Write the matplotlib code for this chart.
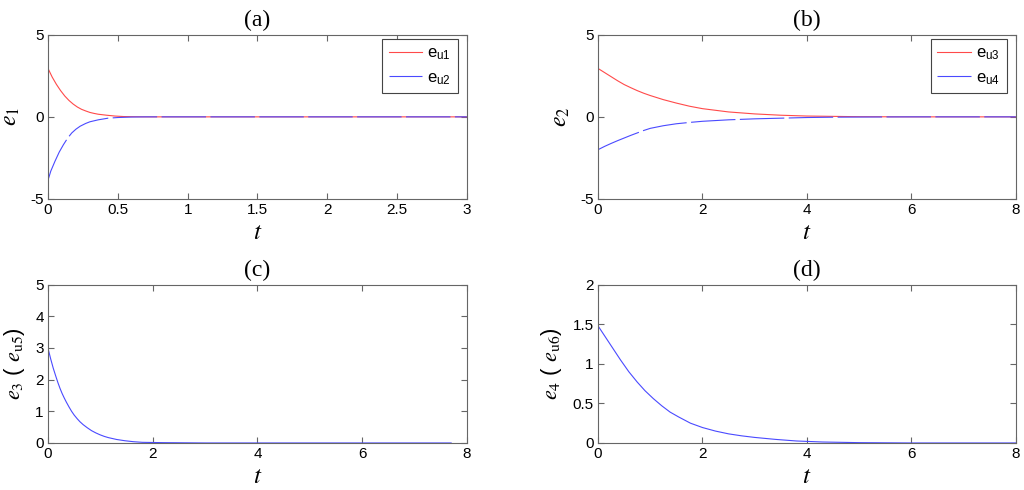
import matplotlib
matplotlib.use('Agg')
import matplotlib.pyplot as plt

plt.rcParams['font.family'] = ['Liberation Sans', 'DejaVu Sans']
plt.rcParams['mathtext.fontset'] = 'stix'
plt.rcParams['axes.unicode_minus'] = False

# (a) values
ta_1 = [0, 0.03, 0.06, 0.09, 0.12, 0.15, 0.18, 0.21, 0.24, 0.27, 0.30, 0.33, 0.36, 0.42,
        0.48, 0.54, 0.60, 0.7, 1.0, 2.0, 3.0]
eu1 = [2.95, 2.42, 1.98, 1.6, 1.27, 1.0, 0.78, 0.6, 0.46, 0.36, 0.27, 0.21, 0.16, 0.10,
       0.05, 0.02, 0.01, 0, 0, 0, 0]
ta_2 = [0, 0.02, 0.05, 0.08, 0.11, 0.14, 0.17, 0.20, 0.23, 0.27, 0.30, 0.36, 0.43, 0.50,
        0.60, 0.7, 1.0, 2.0, 3.0]
eu2 = [-3.85, -3.3, -2.7, -2.15, -1.7, -1.3, -0.98, -0.75, -0.57, -0.4, -0.3, -0.18,
       -0.08, -0.04, -0.01, 0, 0, 0, 0]

# (b)
tb = [0, 0.125, 0.25, 0.375, 0.5, 0.625, 0.75, 0.875, 1.0, 1.25, 1.5, 1.75, 2.0, 2.5,
      3.0, 3.5, 4.0, 4.5, 5.0, 6.0, 7.0, 8.0]
eu3 = [2.95, 2.7, 2.45, 2.2, 1.97, 1.78, 1.6, 1.44, 1.3, 1.05, 0.84, 0.65, 0.5, 0.3,
       0.18, 0.1, 0.05, 0.03, 0.01, 0, 0, 0]
eu4 = [-2.0, -1.8, -1.62, -1.45, -1.29, -1.13, -0.98, -0.83, -0.70, -0.54, -0.42, -0.34,
       -0.27, -0.18, -0.12, -0.08, -0.04, -0.02, -0.01, 0, 0, 0]

# (c)
tc = [0, 0.05, 0.1, 0.15, 0.19, 0.23, 0.27, 0.31, 0.35, 0.4, 0.45, 0.5, 0.56, 0.61, 0.67,
      0.75, 0.83, 0.91, 0.99, 1.07, 1.15, 1.23, 1.31, 1.47, 1.63, 1.8, 2.2, 3.0, 5.0, 7.7]
eu5 = [2.99, 2.66, 2.36, 2.1, 1.9, 1.72, 1.56, 1.42, 1.29, 1.14, 1.0, 0.88, 0.76, 0.67,
       0.58, 0.48, 0.39, 0.32, 0.26, 0.21, 0.17, 0.14, 0.11, 0.07, 0.04, 0.02, 0.01, 0, 0, 0]

# (d)
td = [0, 0.13, 0.27, 0.43, 0.59, 0.75, 0.9, 1.06, 1.22, 1.38, 1.54, 1.77, 2.0, 2.25, 2.5,
      2.75, 3.0, 3.4, 3.8, 4.3, 5.0, 6.0, 8.0]
eu6 = [1.48, 1.35, 1.21, 1.05, 0.9, 0.77, 0.66, 0.56, 0.47, 0.39, 0.33, 0.25, 0.195, 0.15,
       0.115, 0.09, 0.07, 0.045, 0.025, 0.012, 0.004, 0, 0]

red = '#ff4a4a'
blue = '#4a4aff'
edge = '#666666'

fig = plt.figure(figsize=(10.24, 4.9), dpi=100)
ax1 = fig.add_axes([0.0469, 0.594, 0.409, 0.335])
ax2 = fig.add_axes([0.584, 0.594, 0.408, 0.335])
ax3 = fig.add_axes([0.0469, 0.096, 0.409, 0.323])
ax4 = fig.add_axes([0.584, 0.096, 0.408, 0.323])

ax1.plot(ta_1, eu1, color=red, lw=0.8, label=r'e$_{\mathregular{u1}}$')
ax1.plot(ta_2, eu2, color=blue, lw=0.8, dashes=(40, 4), label=r'e$_{\mathregular{u2}}$')
ax1.set_xlim(0, 3)
ax1.set_ylim(-5, 5)
ax1.set_xticks([0, 0.5, 1, 1.5, 2, 2.5, 3])
ax1.set_xticklabels(['0', '0.5', '1', '1.5', '2', '2.5', '3'])
ax1.set_yticks([-5, 0, 5])
ax1.set_ylabel(r'$e_1$', fontsize=17, labelpad=6)
ax1.set_title('(a)', family='Liberation Serif', fontsize=17, pad=6)

ax2.plot(tb, eu3, color=red, lw=0.8, label=r'e$_{\mathregular{u3}}$')
ax2.plot(tb, eu4, color=blue, lw=0.8, dashes=(40, 4), label=r'e$_{\mathregular{u4}}$')
ax2.set_xlim(0, 8)
ax2.set_ylim(-5, 5)
ax2.set_xticks([0, 2, 4, 6, 8])
ax2.set_yticks([-5, 0, 5])
ax2.set_ylabel(r'$e_2$', fontsize=17, labelpad=6)
ax2.set_title('(b)', family='Liberation Serif', fontsize=17, pad=6)

ax3.plot(tc, eu5, color=blue, lw=0.8)
ax3.set_xlim(0, 8)
ax3.set_ylim(0, 5)
ax3.set_xticks([0, 2, 4, 6, 8])
ax3.set_yticks([0, 1, 2, 3, 4, 5])
ax3.set_ylabel(r'$e_3$ ( $e_{\mathrm{u5}}$)', fontsize=16, labelpad=6)
ax3.set_title('(c)', family='Liberation Serif', fontsize=17, pad=6)

ax4.plot(td, eu6, color=blue, lw=0.8)
ax4.set_xlim(0, 8)
ax4.set_ylim(0, 2)
ax4.set_xticks([0, 2, 4, 6, 8])
ax4.set_yticks([0, 0.5, 1, 1.5, 2])
ax4.set_yticklabels(['0', '0.5', '1', '1.5', '2'])
ax4.set_ylabel(r'$e_4$ ( $e_{\mathrm{u6}}$)', fontsize=16, labelpad=6)
ax4.set_title('(d)', family='Liberation Serif', fontsize=17, pad=6)

for ax in [ax1, ax2, ax3, ax4]:
    ax.set_xlabel(r'$t$', fontsize=18, labelpad=2)
    ax.tick_params(direction='in', top=True, right=True, labelsize=11, length=4,
                   color=edge, pad=3)
    for s in ax.spines.values():
        s.set_color(edge)
        s.set_linewidth(0.8)

for ax in [ax1, ax2]:
    leg = ax.legend(loc='upper right', bbox_to_anchor=(0.978, 0.976), borderaxespad=0,
                    fontsize=12, fancybox=False, framealpha=1, edgecolor='#444444',
                    handlelength=2.0, handletextpad=0.3, labelspacing=0.5,
                    borderpad=0.4)
    leg.get_frame().set_linewidth(0.8)

fig.savefig('out.png', dpi=100)
